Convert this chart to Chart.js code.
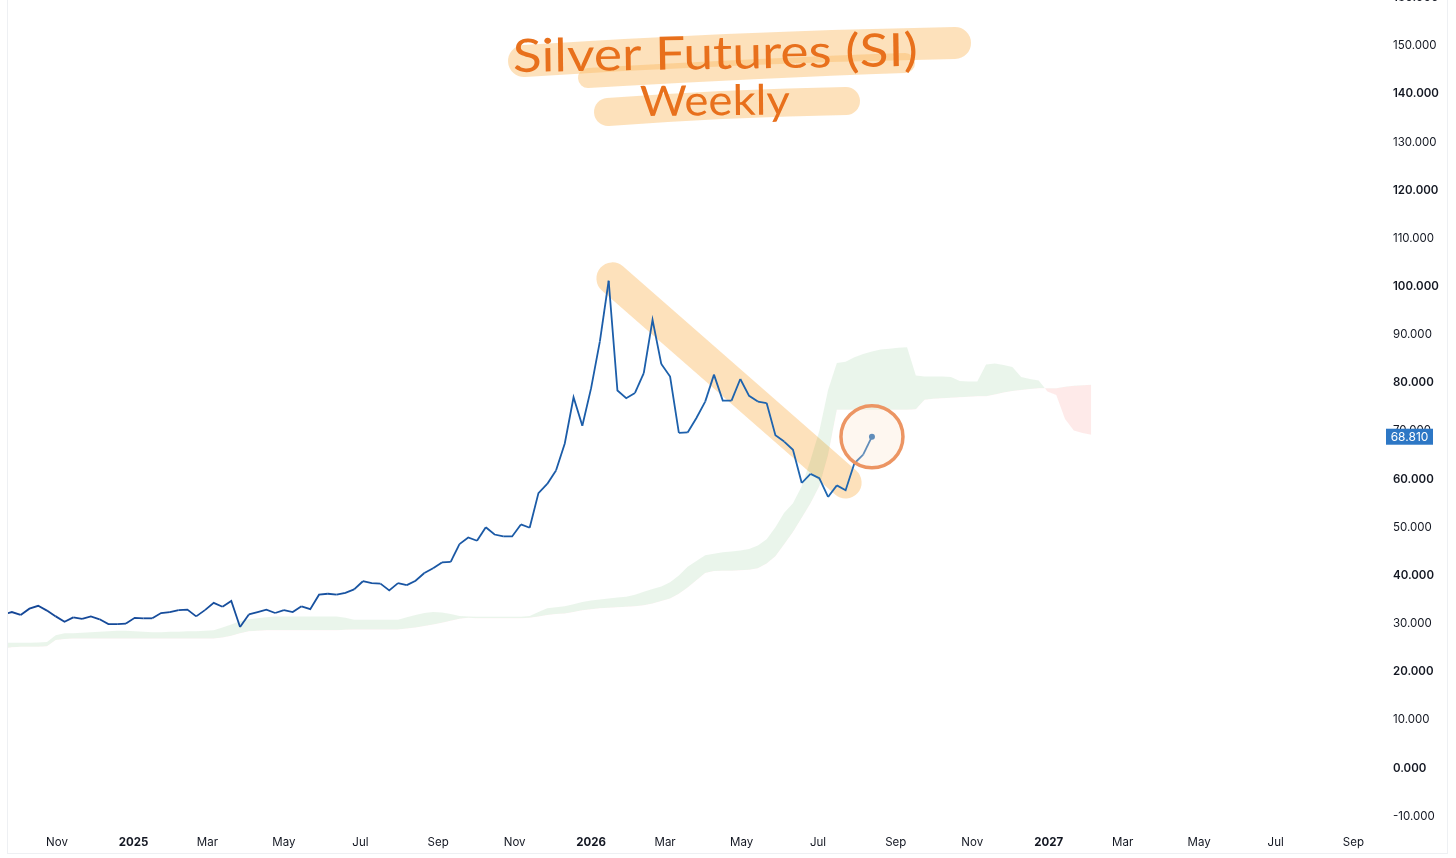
<!DOCTYPE html>
<html>
<head>
<meta charset="utf-8">
<title>Silver Futures (SI) Weekly</title>
<script src="https://cdn.jsdelivr.net/npm/chart.js@4.4.1/dist/chart.umd.min.js"></script>
<style>
  html, body { margin: 0; padding: 0; background: #fff; overflow: hidden; width: 1456px; height: 858px; }
  #wrap { position: absolute; left: 0; top: -12px; width: 1456px; height: 870px; }
  #frame { position: absolute; left: 7px; top: -2px; width: 1439px; height: 854px; border: 1px solid #eef0f3; pointer-events: none; }
</style>
</head>
<body>
<div id="wrap"><canvas id="chart"></canvas></div>
<div id="frame"></div>
<script>
// Weekly closes, first bar 2024-09-19 (partly clipped at the left edge)
const FIRST_BAR = [2024, 8, 19];
const PRICE = [
  31.9, 32.4, 31.8, 33.1, 33.7, 32.7, 31.5, 30.4, 31.3, 31.0,
  31.5, 30.9, 29.9, 29.9, 30.0, 31.2, 31.1, 31.1, 32.2, 32.4,
  32.8, 32.9, 31.5, 32.8, 34.3, 33.5, 34.7, 29.3, 31.9, 32.4,
  32.9, 32.2, 32.8, 32.4, 33.6, 33.0, 36.0, 36.2, 36.0, 36.4,
  37.1, 38.8, 38.4, 38.3, 36.9, 38.4, 38.0, 38.9, 40.5, 41.5,
  42.7, 42.8, 46.5, 47.9, 47.2, 50.0, 48.5, 48.1, 48.1, 50.6,
  49.9, 57.1, 59.0, 61.8, 67.4, 77.0, 71.1, 78.9, 88.6, 101.2,
  78.4, 76.8, 77.9, 82.0, 93.1, 83.9, 81.3, 69.6, 69.7, 72.7,
  76.1, 81.7, 76.3, 76.3, 80.8, 77.3, 76.1, 75.8, 69.1, 67.8,
  66.1, 59.2, 61.1, 60.2, 56.3, 58.7, 57.7, 63.3, 65.1, 68.81
];

// Ichimoku cloud, same first bar, projected 25 weeks past the last close
const SPAN_A = [
  26.0, 26.0, 26.0, 26.0, 26.1, 26.2, 27.6, 28.0,
  28.0, 28.1, 28.2, 28.3, 28.4, 28.5, 28.5, 28.4, 28.3, 28.2, 28.2, 28.3, 28.3, 28.4, 28.4, 28.5, 28.6,
  29.2, 29.8, 30.5, 30.9, 31.1, 31.3,
  31.5, 31.5, 31.5, 31.5, 31.5, 31.5, 31.5, 31.5,
  31.2, 30.8, 30.8, 30.8, 30.8, 30.8, 30.8,
  31.3, 31.8, 32.2, 32.4, 32.3, 32.0, 31.6, 31.5,
  31.4, 31.4, 31.4, 31.4, 31.4, 31.4, 31.6,
  32.4, 33.2, 33.4, 33.6, 34.0, 34.5, 34.8, 35.0, 35.2, 35.4,
  35.6, 36.0, 36.6, 37.2, 37.7, 38.6, 40.0, 41.8, 43.0, 44.2,
  44.5, 44.8, 45.0, 45.2, 45.5, 46.2, 47.5, 50.0, 53.0, 55.0,
  58.5, 64.0, 70.0, 78.5, 84.1,
  84.4, 85.3, 86.0, 86.5, 86.9, 87.1, 87.3, 87.4, 81.5, 81.3,
  81.3, 81.3, 81.2, 80.4, 80.3, 80.3, 83.8, 84.0, 83.7, 83.3,
  81.2, 80.8, 80.5, 78.2, 77.5, 72.5, 70.1, 69.6, 69.2
];
const SPAN_B = [
  24.8, 25.1, 25.2, 25.2, 25.2, 25.3, 26.6, 26.8,
  26.9, 26.9, 26.9, 26.9, 26.9, 26.9, 26.9, 26.9, 26.9, 26.9, 26.9, 26.9, 26.9, 26.9, 26.9, 26.9, 26.9,
  27.1, 27.5, 28.0, 28.4, 28.5, 28.6,
  28.6, 28.6, 28.6, 28.6, 28.6, 28.6, 28.6, 28.6,
  28.7, 28.8, 28.8, 28.8, 28.8, 28.8, 28.8,
  29.0, 29.2, 29.5, 29.8, 30.2, 30.6, 31.0, 31.2,
  31.1, 31.1, 31.1, 31.1, 31.1, 31.1, 31.2,
  31.5, 31.8, 32.0, 32.1, 32.4, 32.8, 33.0, 33.2, 33.3, 33.4,
  33.5, 33.6, 33.8, 34.2, 34.7, 35.2, 36.2, 37.5, 39.0, 40.5,
  40.9, 41.0, 41.0, 41.1, 41.2, 41.5, 42.5, 44.0, 46.5, 49.0,
  52.0, 55.0, 58.5, 65.0, 74.4,
  74.4, 74.4, 74.4, 74.4, 74.4, 74.4, 74.4, 74.4, 74.5, 76.5,
  76.7, 76.8, 76.9, 77.0, 77.1, 77.2, 77.2, 77.6, 78.0, 78.3,
  78.5, 78.7, 78.9, 78.9, 78.9, 79.2, 79.4, 79.5, 79.6
];

// Time axis labels (every second month)
const X_TICK_MONTHS = ['2024-11', '2025-01', '2025-03', '2025-05', '2025-07', '2025-09',
  '2025-11', '2026-01', '2026-03', '2026-05', '2026-07', '2026-09',
  '2026-11', '2027-01', '2027-03', '2027-05', '2027-07', '2027-09'];
const X_TICK_LABELS = ['Nov', '2025', 'Mar', 'May', 'Jul', 'Sep',
  'Nov', '2026', 'Mar', 'May', 'Jul', 'Sep',
  'Nov', '2027', 'Mar', 'May', 'Jul', 'Sep'];
const Y_TICKS = [-10, 0, 10, 20, 30, 40, 50, 60, 70, 80, 90, 100, 110, 120, 130, 140, 150, 160];

const TITLE = 'Silver Futures (SI)';
const SUBTITLE = 'Weekly';

// ─── helpers ───
const DAY = 86400000;
const ORIGIN = Date.UTC(2024, 10, 1);
const barDay = (i) => (Date.UTC(...FIRST_BAR) - ORIGIN) / DAY + 7 * i;
const monthDay = (s) => {
  const [y, m] = s.split('-').map(Number);
  return (Date.UTC(y, m - 1, 1) - ORIGIN) / DAY;
};
const FONT = "Inter, 'Noto Sans', sans-serif";
const OFFSET = 12; // canvas is shifted up so the 160 label is cut like the original

const lineCol = (t) => {
  const a = [20, 70, 150], b = [31, 104, 178];
  return `rgb(${a.map((v, k) => Math.round(v + (b[k] - v) * t)).join(',')})`;
};

const pricePts = PRICE.map((v, i) => ({ x: barDay(i), y: v }));
const spanAPts = SPAN_A.map((v, i) => ({ x: barDay(i), y: v }));
const spanBPts = SPAN_B.map((v, i) => ({ x: barDay(i), y: v }));
const lastIdx = PRICE.length - 1;

// hand-drawn marks
const HILITE = { from: [443, 101.7], to: [629, 59.3], width: 32 };
const HILITE_COL = 'rgba(251, 188, 105, 0.45)';

function stroke(ctx, pts, w, col) {
  ctx.save();
  ctx.strokeStyle = col;
  ctx.lineWidth = w;
  ctx.lineCap = 'round';
  ctx.lineJoin = 'round';
  ctx.beginPath();
  ctx.moveTo(pts[0][0], pts[0][1] + OFFSET);
  if (pts.length === 3) ctx.quadraticCurveTo(pts[1][0], pts[1][1] + OFFSET, pts[2][0], pts[2][1] + OFFSET);
  else ctx.lineTo(pts[1][0], pts[1][1] + OFFSET);
  ctx.stroke();
  ctx.restore();
}

function handText(ctx, txt, x, y, w, size, angle) {
  ctx.save();
  ctx.font = `400 ${size}px Lato, 'Open Sans', sans-serif`;
  ctx.fillStyle = '#e8701c';
  ctx.textBaseline = 'alphabetic';
  const m = ctx.measureText(txt).width;
  ctx.translate(x, y + OFFSET);
  ctx.rotate(angle);
  ctx.scale(w / m, 1);
  ctx.fillText(txt, 0, 0);
  ctx.restore();
}

const annotate = {
  id: 'annotate',
  beforeDatasetsDraw(chart) {
    const { ctx, scales: { x, y } } = chart;
    // diagonal highlighter over the lower highs
    ctx.save();
    ctx.strokeStyle = HILITE_COL;
    ctx.lineWidth = HILITE.width;
    ctx.lineCap = 'round';
    ctx.beginPath();
    ctx.moveTo(x.getPixelForValue(HILITE.from[0]), y.getPixelForValue(HILITE.from[1]));
    ctx.lineTo(x.getPixelForValue(HILITE.to[0]), y.getPixelForValue(HILITE.to[1]));
    ctx.stroke();
    ctx.restore();
  },
  afterDatasetsDraw(chart) {
    const { ctx, scales: { x, y } } = chart;
    // circle round the last close
    const cx = x.getPixelForValue(pricePts[lastIdx].x);
    const cy = y.getPixelForValue(PRICE[lastIdx]);
    ctx.save();
    ctx.beginPath();
    ctx.arc(cx, cy, 31, 0, Math.PI * 2);
    ctx.fillStyle = 'rgba(252, 230, 205, 0.3)';
    ctx.fill();
    ctx.lineWidth = 3.5;
    ctx.strokeStyle = '#ec9563';
    ctx.stroke();
    ctx.restore();
  },
  afterDraw(chart) {
    const { ctx, scales: { y } } = chart;
    // title highlighter
    stroke(ctx, [[524, 61], [740, 47], [955, 43]], 32, HILITE_COL);
    stroke(ctx, [[588, 78], [760, 68], [905, 63]], 20, HILITE_COL);
    stroke(ctx, [[608, 112], [730, 103], [846, 101]], 28, HILITE_COL);
    handText(ctx, TITLE, 513, 72, 405, 46, -0.015);
    handText(ctx, SUBTITLE, 640, 116, 150, 42, -0.01);
    // last price label on the scale
    const py = y.getPixelForValue(PRICE[lastIdx]);
    ctx.save();
    ctx.fillStyle = '#2d77c5';
    ctx.fillRect(1386, py - 8, 47, 16);
    ctx.fillStyle = '#ffffff';
    ctx.font = `12px ${FONT}`;
    ctx.textAlign = 'center';
    ctx.textBaseline = 'middle';
    ctx.fillText(PRICE[lastIdx].toFixed(3), 1409.5, py + 0.5);
    ctx.restore();
  }
};

new Chart(document.getElementById('chart'), {
  type: 'line',
  data: {
    datasets: [
      {
        label: 'SI1! weekly close',
        data: pricePts,
        borderWidth: 1.8,
        borderColor: lineCol(1),
        segment: { borderColor: (c) => lineCol(c.p0DataIndex / lastIdx) },
        pointRadius: (c) => (c.dataIndex === lastIdx ? 3 : 0),
        pointBackgroundColor: lineCol(1),
        pointBorderWidth: 0,
        tension: 0,
        fill: false,
        order: 0,
      },
      {
        label: 'Leading span A',
        data: spanAPts,
        borderColor: 'transparent',
        borderWidth: 0,
        pointRadius: 0,
        tension: 0,
        fill: { target: '+1', above: 'rgba(67, 160, 71, 0.11)', below: 'rgba(244, 67, 54, 0.11)' },
        order: 1,
      },
      {
        label: 'Leading span B',
        data: spanBPts,
        borderColor: 'transparent',
        borderWidth: 0,
        pointRadius: 0,
        tension: 0,
        fill: false,
        order: 2,
      }
    ]
  },
  options: {
    responsive: true,
    maintainAspectRatio: false,
    animation: false,
    layout: { padding: { left: 8, right: 0, top: 0, bottom: 0 } },
    plugins: {
      legend: { display: false },
      tooltip: { enabled: false },
    },
    scales: {
      x: {
        type: 'linear',
        min: -39.08,
        max: 1059.2,
        grid: { display: false, drawTicks: false },
        border: { display: false },
        afterBuildTicks: (s) => { s.ticks = X_TICK_MONTHS.map((m) => ({ value: monthDay(m) })); },
        afterFit: (s) => { s.height = 28; },
        ticks: {
          autoSkip: false,
          maxRotation: 0,
          padding: 6,
          color: '#131722',
          callback: (v, i) => X_TICK_LABELS[i],
          font: (c) => ({
            family: FONT,
            size: 11.5,
            weight: /^\d{4}$/.test(X_TICK_LABELS[c.index] || '') ? '700' : '400',
          }),
        },
      },
      y: {
        position: 'right',
        min: -12.86,
        max: 158.9,
        grid: { display: false, drawTicks: false },
        border: { display: false },
        afterBuildTicks: (s) => { s.ticks = Y_TICKS.map((v) => ({ value: v })); },
        afterFit: (s) => { s.width = 71; },
        ticks: {
          padding: 8,
          color: '#131722',
          callback: (v) => v.toFixed(3),
          font: (c) => ({
            family: FONT,
            size: 11.5,
            weight: c.tick && c.tick.value % 20 === 0 ? '600' : '400',
          }),
        },
      },
    },
  },
  plugins: [annotate],
});
</script>
</body>
</html>
